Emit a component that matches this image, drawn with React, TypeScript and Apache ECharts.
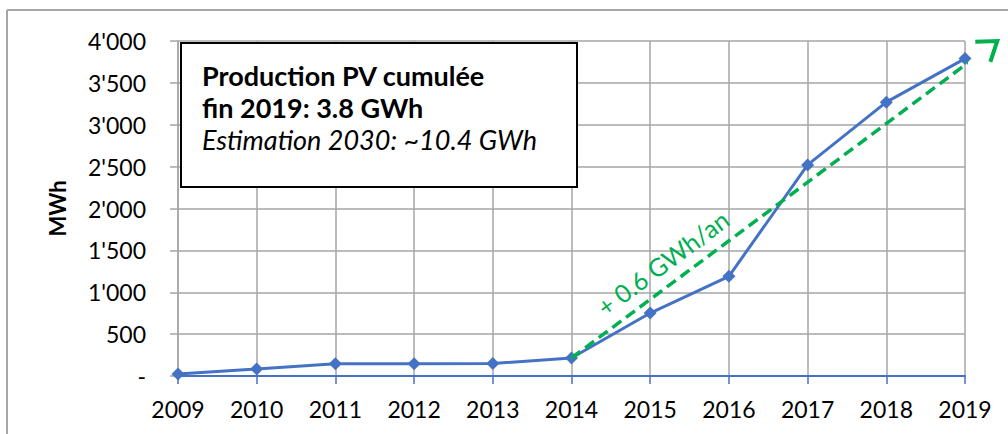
import React, { useEffect, useRef } from "react";
import * as echarts from "echarts";

const years = ["2009", "2010", "2011", "2012", "2013", "2014", "2015", "2016", "2017", "2018", "2019"];
const production = [25, 85, 145, 145, 150, 215, 752, 1190, 2520, 3270, 3790];
const trendStart = [5, 215];
const trendEnd = [10.41, 4000];
const trendLabel = "+ 0.6 GWh/an";
const boxLines = ["Production PV cumulée", "fin 2019: 3.8 GWh", "Estimation 2030: ~10.4 GWh"];
const yName = "MWh";

const FONT = "Lato";
const GRID_COLOR = "#A6A6A6";
const BLUE = "#4472C4";
const GREEN = "#00B050";

function fmt(v: number) {
  if (v === 0) return "-";
  const s = String(v);
  return s.length > 3 ? s.slice(0, s.length - 3) + "'" + s.slice(-3) : s;
}

export default function App() {
  const ref = useRef<HTMLDivElement>(null);
  useEffect(() => {
    const chart = echarts.init(ref.current!, null, { renderer: "svg" });
    chart.setOption({
      animation: false,
      grid: { left: 178, right: 43, top: 41, bottom: 58 },
      xAxis: [
        {
          type: "category",
          data: years,
          boundaryGap: false,
          axisLine: { lineStyle: { color: BLUE, width: 2 } },
          axisTick: { show: true, length: 8, lineStyle: { color: BLUE, width: 1.5 } },
          axisLabel: { color: "#000", fontFamily: FONT, fontSize: 23, margin: 21 },
          splitLine: { show: true, lineStyle: { color: GRID_COLOR, width: 1.5 } },
        },
        { type: "value", min: 0, max: 10, show: false },
      ],
      yAxis: {
        type: "value",
        min: 0,
        max: 4000,
        interval: 500,
        name: yName,
        nameLocation: "middle",
        nameGap: 110,
        nameTextStyle: { color: "#000", fontFamily: FONT, fontSize: 22, fontWeight: "bold" },
        axisLine: { show: true, lineStyle: { color: GRID_COLOR, width: 1.5 } },
        axisTick: { show: true, length: 8, lineStyle: { color: GRID_COLOR, width: 1.5 } },
        axisLabel: { color: "#000", fontFamily: FONT, fontSize: 23, margin: 32, formatter: fmt },
        splitLine: { show: true, lineStyle: { color: GRID_COLOR, width: 1.5 } },
      },
      series: [
        {
          type: "line",
          data: production,
          symbol: "diamond",
          symbolSize: 13,
          itemStyle: { color: BLUE },
          lineStyle: { color: BLUE, width: 3 },
          z: 3,
        },
        {
          type: "line",
          xAxisIndex: 1,
          data: [trendStart, trendEnd],
          symbol: "none",
          clip: false,
          lineStyle: { color: GREEN, width: 3.5, type: [11, 6] },
          z: 4,
        },
      ],
    });

    const p0 = chart.convertToPixel({ xAxisIndex: 1, yAxisIndex: 0 }, trendStart) as number[];
    const p1 = chart.convertToPixel({ xAxisIndex: 1, yAxisIndex: 0 }, trendEnd) as number[];
    const dx = p1[0] - p0[0];
    const dy = p1[1] - p0[1];
    const len = Math.hypot(dx, dy);
    const ux = dx / len;
    const uy = dy / len;
    const arm = 22;
    const ang = (35 * Math.PI) / 180;
    const rot = (x: number, y: number, a: number) => [x * Math.cos(a) - y * Math.sin(a), x * Math.sin(a) + y * Math.cos(a)];
    const b1 = rot(-ux, -uy, ang);
    const b2 = rot(-ux, -uy, -ang);
    const t = 0.245;
    const lx = p0[0] + dx * t + uy * 22;
    const ly = p0[1] + dy * t - ux * 22;
    const angle = Math.atan2(-dy, dx);

    const textStyle = (text: string, extra: any) => ({
      text,
      fill: "#000",
      fontFamily: FONT,
      verticalAlign: "middle",
      ...extra,
    });

    chart.setOption({
      graphic: [
        { type: "line", shape: { x1: 7, y1: 10, x2: 7, y2: 434 }, style: { stroke: "#A6A6A6", lineWidth: 2 } },
        { type: "line", shape: { x1: 7, y1: 10, x2: 1008, y2: 10 }, style: { stroke: "#A6A6A6", lineWidth: 2 } },
        {
          type: "polyline",
          z: 50,
          shape: {
            points: [
              [p1[0] + b1[0] * arm, p1[1] + b1[1] * arm],
              [p1[0], p1[1]],
              [p1[0] + b2[0] * arm, p1[1] + b2[1] * arm],
            ],
          },
          style: { stroke: GREEN, lineWidth: 4, fill: null },
        },
        {
          type: "text",
          z: 50,
          x: lx,
          y: ly,
          rotation: angle,
          style: {
            text: trendLabel,
            fill: GREEN,
            fontFamily: FONT,
            fontSize: 25,
            align: "center",
            verticalAlign: "middle",
          },
        },
        {
          type: "rect",
          z: 60,
          shape: { x: 181, y: 43, width: 396, height: 144 },
          style: { fill: "#fff", stroke: "#000", lineWidth: 2 },
        },
        { type: "text", z: 61, x: 202, y: 75, style: textStyle(boxLines[0], { fontWeight: "bold", fontSize: 27 }) },
        { type: "text", z: 61, x: 202, y: 107, style: textStyle(boxLines[1], { fontWeight: "bold", fontSize: 27 }) },
        { type: "text", z: 61, x: 202, y: 139, style: textStyle(boxLines[2], { fontStyle: "italic", fontSize: 27 }) },
      ],
    });
    return () => chart.dispose();
  }, []);
  return <div ref={ref} style={{ width: 1008, height: 434, position: "absolute", left: 0, top: 0 }} />;
}
